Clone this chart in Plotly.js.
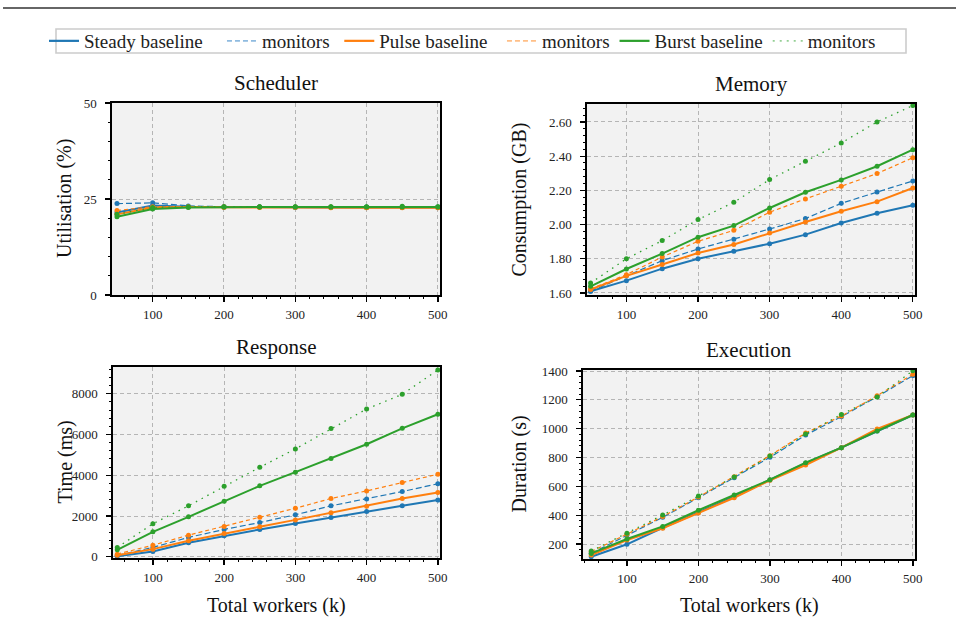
<!DOCTYPE html>
<html>
<head>
<meta charset="utf-8">
<script src="https://cdn.plot.ly/plotly-3.0.1.min.js"></script>
<style>html,body{margin:0;padding:0;background:#fff;}#chart{width:956px;height:631px;}</style>
</head>
<body>
<div id="chart"></div>
<script>
// ---- data ----
const workers = [50, 100, 150, 200, 250, 300, 350, 400, 450, 500];
const xTickVals = [100, 200, 300, 400, 500];
const seriesNames = ["Steady baseline", "monitors", "Pulse baseline", "monitors", "Burst baseline", "monitors"];
const panelTitles = ["Scheduler", "Memory", "Response", "Execution"];
const yTitles = ["Utilisation (%)", "Consumption (GB)", "Time (ms)", "Duration (s)"];
const xTitle = "Total workers (k)";

// Scheduler utilisation (%)
const schedSteadyBase = [21.5, 23.3, 23.0, 22.9, 22.9, 22.8, 22.8, 22.8, 22.8, 22.8];
const schedSteadyMon  = [23.8, 24.0, 23.2, 23.0, 23.0, 22.9, 22.9, 22.9, 22.9, 22.9];
const schedPulseBase  = [21.0, 22.8, 22.9, 22.8, 22.8, 22.8, 22.7, 22.7, 22.7, 22.7];
const schedPulseMon   = [22.0, 23.0, 23.0, 23.0, 22.9, 22.9, 22.9, 22.8, 22.8, 22.8];
const schedBurstBase  = [20.4, 22.4, 22.8, 22.9, 22.9, 22.9, 22.9, 22.9, 22.9, 22.9];
const schedBurstMon   = [21.0, 22.8, 23.0, 23.0, 23.0, 23.0, 23.0, 23.0, 23.1, 23.0];

// Memory consumption (GB)
const memSteadyBase = [1.61, 1.672, 1.742, 1.800, 1.844, 1.888, 1.941, 2.009, 2.066, 2.113];
const memSteadyMon  = [1.61, 1.700, 1.789, 1.857, 1.914, 1.974, 2.035, 2.124, 2.190, 2.255];
const memPulseBase  = [1.62, 1.700, 1.766, 1.834, 1.883, 1.951, 2.015, 2.078, 2.134, 2.214];
const memPulseMon   = [1.623, 1.707, 1.810, 1.902, 1.966, 2.072, 2.150, 2.224, 2.298, 2.391];
const memBurstBase  = [1.639, 1.740, 1.830, 1.926, 1.994, 2.097, 2.189, 2.261, 2.341, 2.438];
const memBurstMon   = [1.658, 1.800, 1.906, 2.029, 2.130, 2.263, 2.370, 2.477, 2.600, 2.696];

// Response time (ms)
const respSteadyBase = [30, 260, 690, 1030, 1340, 1630, 1930, 2220, 2500, 2780];
const respSteadyMon  = [65, 460, 950, 1340, 1680, 2060, 2500, 2840, 3200, 3580];
const respPulseBase  = [80, 375, 785, 1140, 1470, 1810, 2160, 2480, 2860, 3150];
const respPulseMon   = [130, 570, 1060, 1490, 1940, 2380, 2860, 3230, 3640, 4050];
const respBurstBase  = [340, 1225, 1960, 2730, 3480, 4150, 4820, 5520, 6300, 6990];
const respBurstMon   = [460, 1620, 2500, 3460, 4390, 5290, 6290, 7250, 7970, 9160];

// Execution duration (s)
const execSteadyBase = [112, 198, 313, 420, 528, 644, 760, 868, 984, 1095];
const execSteadyMon  = [135, 262, 385, 521, 660, 801, 956, 1083, 1222, 1368];
const execPulseBase  = [124, 228, 309, 415, 521, 642, 748, 868, 998, 1095];
const execPulseMon   = [147, 267, 390, 526, 667, 813, 970, 1088, 1229, 1377];
const execBurstBase  = [135, 235, 322, 434, 540, 646, 764, 868, 984, 1095];
const execBurstMon   = [151, 274, 401, 533, 665, 810, 963, 1099, 1220, 1402];

// ---- styling ----
const W = 956, H = 631;
const FONT = "Liberation Serif, Times New Roman, serif";
const colors = ["#1f77b4", "#1f77b4", "#ff7f0e", "#ff7f0e", "#2ca02c", "#2ca02c"];
const dashes = ["solid", "6px,3px", "solid", "4px,3px", "solid", "1.5px,5px"];
const widths = [2, 1.2, 2, 1.2, 2, 1.3];
const legendColors = ["#1f77b4", "#8fbbe0", "#ff7f0e", "#ffbf87", "#2ca02c", "#95cf95"];
const legendPadN = [3, 1, 2, 0, 0, 0];

const panels = [
  [schedSteadyBase, schedSteadyMon, schedPulseBase, schedPulseMon, schedBurstBase, schedBurstMon],
  [memSteadyBase, memSteadyMon, memPulseBase, memPulseMon, memBurstBase, memBurstMon],
  [respSteadyBase, respSteadyMon, respPulseBase, respPulseMon, respBurstBase, respBurstMon],
  [execSteadyBase, execSteadyMon, execPulseBase, execPulseMon, execBurstBase, execBurstMon]
];

// pixel boxes of each panel [left, right, top, bottom]
const boxes = [
  [112, 440, 103, 295],
  [587, 915, 104, 295],
  [113, 440, 367, 558],
  [583, 915, 370, 559]
];
const xRanges = [[43, 503], [45, 503], [44, 503], [38.5, 503]];
const yRanges = [[0, 50], [1.588, 2.705], [-60, 9310], [96, 1407]];
const yTicks = [[0, 25, 50], [1.6, 1.8, 2.0, 2.2, 2.4, 2.6], [0, 2000, 4000, 6000, 8000], [200, 400, 600, 800, 1000, 1200, 1400]];
const yTickText = [["0", "25", "50"], ["1.60", "1.80", "2.00", "2.20", "2.40", "2.60"], ["0", "2000", "4000", "6000", "8000"], ["200", "400", "600", "800", "1000", "1200", "1400"]];
const yMinor = [5, 0.04, 400, 40];

const traces = [];
panels.forEach((series, p) => {
  const ax = p === 0 ? "" : String(p + 1);
  series.forEach((vals, s) => {
    traces.push({
      type: "scatter", mode: "lines+markers",
      x: workers, y: vals,
      xaxis: "x" + ax, yaxis: "y" + ax,
      name: seriesNames[s],
      legendgroup: "g" + s,
      showlegend: false,
      line: {color: colors[s], width: widths[s], dash: dashes[s]},
      marker: {color: colors[s], size: 5, symbol: "circle"}
    });
  });
});
// legend-only entries (line keys, no markers)
seriesNames.forEach((nm, s) => {
  traces.push({
    type: "scatter", mode: "lines", x: [null], y: [null],
    name: nm + "\u00a0".repeat(legendPadN[s]),
    legendgroup: "g" + s, showlegend: true, hoverinfo: "skip",
    line: {color: legendColors[s], width: s % 2 === 0 ? 2.2 : 1.6, dash: s % 2 === 0 ? "solid" : (s === 5 ? "2px,5px" : "5px,3px")}
  });
});

const layout = {
  width: W, height: H,
  margin: {l: 0, r: 0, t: 0, b: 0},
  paper_bgcolor: "#ffffff",
  plot_bgcolor: "#f2f2f2",
  font: {family: FONT, size: 13, color: "#222"},
  showlegend: true,
  legend: {
    orientation: "h", x: 44 / W, xanchor: "left", y: 1 - 22 / H, yanchor: "top",
    bgcolor: "rgba(0,0,0,0)", borderwidth: 0,
    font: {family: FONT, size: 19, color: "#222"},
    itemwidth: 30, tracegroupgap: 0
  },
  annotations: [],
  shapes: [
    {type: "line", xref: "paper", yref: "paper",
     x0: 3 / W, x1: 1, y0: 1 - 8 / H, y1: 1 - 8 / H,
     line: {color: "#666666", width: 2}},
    {type: "rect", xref: "paper", yref: "paper",
     x0: 56 / W, x1: 906 / W, y0: 1 - 53 / H, y1: 1 - 29 / H,
     line: {color: "#cccccc", width: 1.6}, fillcolor: "#ffffff"}
  ]
};

boxes.forEach((b, p) => {
  const ax = p === 0 ? "" : String(p + 1);
  const xd = [b[0] / W, b[1] / W];
  const yd = [1 - b[3] / H, 1 - b[2] / H];
  layout["xaxis" + ax] = {
    domain: xd, anchor: "y" + ax, range: xRanges[p],
    tickmode: "array", tickvals: xTickVals, ticktext: xTickVals.map(String),
    ticks: "outside", ticklen: 5, tickwidth: 1.3, tickcolor: "#000",
    minor: {ticks: "outside", ticklen: 2.5, tickwidth: 1, tickcolor: "#000", dtick: 20, tick0: 0, showgrid: false},
    showline: true, linecolor: "#000", linewidth: 1.6, mirror: true,
    showgrid: true, gridcolor: "#b5b5b5", gridwidth: 1, griddash: "4px,3px",
    zeroline: false, tickfont: {family: FONT, size: 13, color: "#222"},
    ticklabelstandoff: 2
  };
  layout["yaxis" + ax] = {
    domain: yd, anchor: "x" + ax, range: yRanges[p],
    tickmode: "array", tickvals: yTicks[p], ticktext: yTickText[p],
    ticks: "outside", ticklen: 5, tickwidth: 1.3, tickcolor: "#000",
    minor: {ticks: "outside", ticklen: 2.5, tickwidth: 1, tickcolor: "#000", dtick: yMinor[p], tick0: 0, showgrid: false},
    showline: true, linecolor: "#000", linewidth: 1.6, mirror: true,
    showgrid: true, gridcolor: "#b5b5b5", gridwidth: 1, griddash: "4px,3px",
    zeroline: false, tickfont: {family: FONT, size: 13, color: "#222"},
    ticklabelstandoff: 6
  };
  const cx = (b[0] + b[1]) / 2;
  layout.annotations.push({
    text: panelTitles[p], xref: "paper", yref: "paper",
    x: cx / W, y: 1 - (b[2] - 20) / H, xanchor: "center", yanchor: "middle",
    showarrow: false, font: {family: FONT, size: 21, color: "#111"}
  });
  const yx = p % 2 === 0 ? 65 : 519;
  layout.annotations.push({
    text: yTitles[p], xref: "paper", yref: "paper",
    x: yx / W, y: 1 - ((b[2] + b[3]) / 2) / H, xanchor: "center", yanchor: "middle",
    textangle: -90, showarrow: false, font: {family: FONT, size: 20, color: "#111"}
  });
  if (p >= 2) {
    layout.annotations.push({
      text: xTitle, xref: "paper", yref: "paper",
      x: cx / W, y: 1 - 605 / H, xanchor: "center", yanchor: "middle",
      showarrow: false, font: {family: FONT, size: 20, color: "#111"}
    });
  }
});

Plotly.newPlot("chart", traces, layout, {staticPlot: true, displayModeBar: false});
</script>
</body>
</html>
